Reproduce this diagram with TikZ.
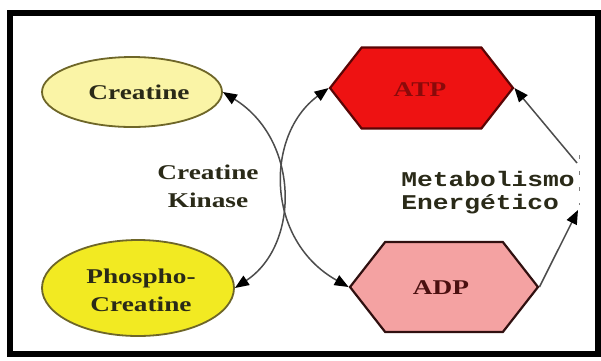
\documentclass[tikz,border=0pt]{standalone}
\usepackage{fontspec}
\usetikzlibrary{shapes.geometric,shapes.symbols,arrows.meta}
\newfontfamily\nf[FakeStretch=1.3]{Liberation Serif}
\newfontfamily\mf[FakeStretch=1.25]{Liberation Mono}
\definecolor{creFill}{HTML}{FAF4A6}
\definecolor{creLine}{HTML}{6E6628}
\definecolor{pcFill}{HTML}{F2EA22}
\definecolor{atpFill}{HTML}{EE1212}
\definecolor{atpLine}{HTML}{5A0505}
\definecolor{atpText}{HTML}{8A0A0A}
\definecolor{adpFill}{HTML}{F4A2A2}
\definecolor{adpLine}{HTML}{301010}
\definecolor{adpText}{HTML}{4A1010}
\definecolor{txt}{HTML}{2A2A18}
\begin{document}
\begin{tikzpicture}[x=1pt,y=-1pt,
  >={Triangle[length=14pt,width=11pt,color=black]},
  lbl/.style={font=\nf\bfseries\fontsize{21}{28}\selectfont, text=txt, align=center, inner sep=0},
  ell/.style={ellipse, draw=creLine, line width=1.8pt, inner sep=0},
  hexa/.style={signal, signal to=west and east, signal pointer angle=104, line width=2.2pt, inner sep=0},
  conn/.style={draw=black!70, line width=1.5pt, <->},
  one/.style={draw=black!70, line width=1.5pt, ->}
]
\useasboundingbox (0,0) rectangle (601,360);
\fill[white] (0,0) rectangle (601,360);
\draw[line width=6pt] (10,12.5) rectangle (597.5,353.5);

\node[ell, fill=creFill, minimum width=180pt, minimum height=70pt] (cre) at (132,92) {};
\node[lbl] at (139,92) {Creatine};
\node[ell, fill=pcFill, minimum width=192pt, minimum height=96pt] (pc) at (138,288) {};
\node[lbl] at (141,290) {Phospho-\\Creatine};

\node[hexa, fill=atpFill, draw=atpLine, minimum width=183pt, minimum height=81pt] (atp) at (421.5,88) {};
\node[lbl, text=atpText] at (420,90) {ATP};
\node[hexa, fill=adpFill, draw=adpLine, minimum width=188pt, minimum height=90pt] (adp) at (444,287) {};
\node[lbl, text=adpText] at (441,288) {ADP};

\node[lbl] (ck) at (208,186) {Creatine\\Kinase};
\node[font=\mf\bfseries\fontsize{21}{23}\selectfont, text=txt, align=left, inner sep=0] (met) at (488,193) {Metabolismo\\Energ\'etico};

\coordinate (m1) at (578,210);
\coordinate (m2) at (577,163);
\draw[black!50, line width=1pt, dash pattern=on 4pt off 12pt] (579,155) -- (579,205);

\draw[conn] (cre.east) .. controls (300,140) and (300,245) .. (pc.east);
\draw[conn] (atp.west) .. controls (265,135) and (265,240) .. (adp.west);
\draw[one] (adp.east) -- (m1);
\draw[one] (m2) -- (atp.east);
\end{tikzpicture}
\end{document}
